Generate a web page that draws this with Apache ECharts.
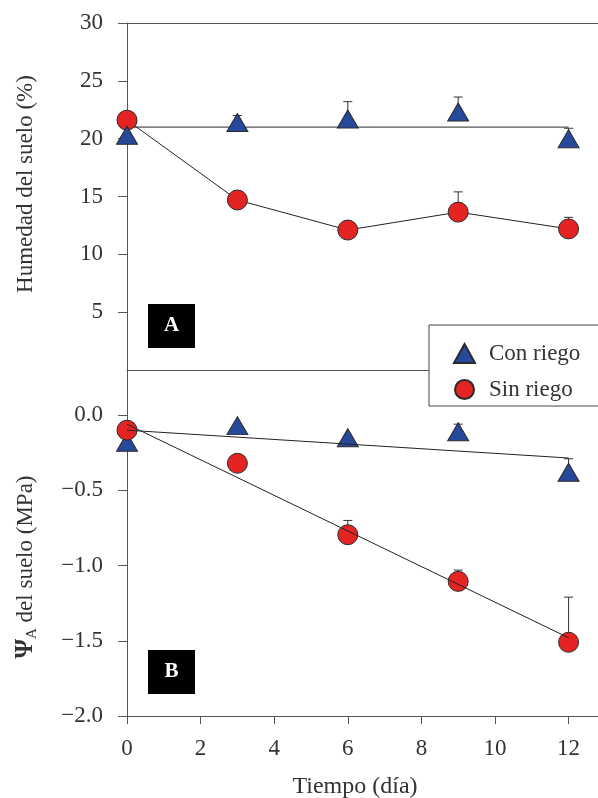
<!DOCTYPE html>
<html>
<head>
<meta charset="utf-8">
<script src="https://cdn.jsdelivr.net/npm/echarts@6/dist/echarts.min.js"></script>
<style>
html,body{margin:0;padding:0;background:#fff;}
#chart{width:598px;height:798px;}
</style>
</head>
<body>
<div id="chart"></div>
<script>
// ---- data ----
const days = [0, 3, 6, 9, 12];
const xTicks = [0, 2, 4, 6, 8, 10, 12];
const humTicks = [5, 10, 15, 20, 25, 30];
const psiTicks = [-2.0, -1.5, -1.0, -0.5, 0.0];

// Panel A: Humedad del suelo (%)
const humConRiego = [20.3, 21.4, 21.7, 22.3, 20.0];
const humConRiegoErr = [null, 22.0, 23.2, 23.6, 20.9];
const humSinRiego = [21.6, 14.7, 12.1, 13.65, 12.2];
const humSinRiegoErr = [null, null, null, 15.4, 13.2];
const fitDays = [0, 12];
const humConRiegoMean = [21.0, 21.0];

// Panel B: Psi_A del suelo (MPa)
const psiConRiego = [-0.18, -0.07, -0.15, -0.11, -0.38];
const psiConRiegoErr = [null, null, null, -0.06, -0.29];
const psiSinRiego = [-0.10, -0.32, -0.795, -1.105, -1.51];
const psiSinRiegoErr = [null, null, -0.70, -1.03, -1.21];
const psiConRiegoFit = [-0.10, -0.285];
const psiSinRiegoFit = [-0.06, -1.48];

// ---- helpers ----
const FONT = "'Liberation Serif','DejaVu Serif',serif";
const BLUE = '#27499b', RED = '#e32422', EDGE = '#2a2a2a', AX = '#555';
const XMAX = 12.8;
const LBL = 23;
const pairs = (xs, ys) => xs.map((x, i) => [x, ys[i]]);
const errData = (vals, errs) => days.map((d, i) => errs[i] == null ? null : [d, vals[i], errs[i]]).filter(Boolean);

function renderErr(params, api) {
  const x = api.value(0), y = api.value(1), e = api.value(2);
  const p0 = api.coord([x, y]), p1 = api.coord([x, e]);
  const cap = 4.5;
  const st = { stroke: '#333', lineWidth: 1 };
  return { type: 'group', children: [
    { type: 'line', shape: { x1: p0[0], y1: p0[1], x2: p1[0], y2: p1[1] }, style: st },
    { type: 'line', shape: { x1: p1[0] - cap, y1: p1[1], x2: p1[0] + cap, y2: p1[1] }, style: st }
  ]};
}
const fmtNum = v => (v < 0 ? '\u2212' : '') + Math.abs(v).toFixed(1);

const chart = echarts.init(document.getElementById('chart'), null, { renderer: 'canvas' });

const lineOnlyX = (grid, pos) => ({
  type: 'value', gridIndex: grid, position: pos, min: 0, max: XMAX,
  axisLine: { show: true, onZero: false, lineStyle: { color: AX, width: 1 } },
  axisTick: { show: false }, axisLabel: { show: false }, splitLine: { show: false }
});

const option = {
  animation: false,
  backgroundColor: '#fff',
  textStyle: { fontFamily: FONT },
  grid: [
    { left: 127, top: 23, right: 0, height: 347 },
    { left: 127, top: 370, right: 0, height: 346 }
  ],
  xAxis: [
    lineOnlyX(0, 'top'),
    {
      type: 'value', gridIndex: 1, position: 'bottom', min: 0, max: XMAX, interval: 2,
      axisLine: { show: true, onZero: false, lineStyle: { color: AX, width: 1 } },
      axisTick: { show: true, length: 8, lineStyle: { color: AX }, customValues: xTicks },
      axisLabel: { show: true, customValues: xTicks, margin: 21, fontSize: LBL, color: '#333', fontFamily: FONT },
      splitLine: { show: false }
    },
    lineOnlyX(1, 'top')
  ],
  yAxis: [
    {
      type: 'value', gridIndex: 0, min: 0, max: 30, interval: 5,
      axisLine: { show: true, onZero: false, lineStyle: { color: AX, width: 1 } },
      axisTick: { show: true, length: 9, lineStyle: { color: AX }, customValues: humTicks },
      axisLabel: { customValues: humTicks, margin: 24, fontSize: LBL, color: '#333', fontFamily: FONT },
      splitLine: { show: false }
    },
    {
      type: 'value', gridIndex: 1, min: -2.0, max: 0.3, interval: 0.5,
      axisLine: { show: true, onZero: false, lineStyle: { color: AX, width: 1 } },
      axisTick: { show: true, length: 9, lineStyle: { color: AX }, customValues: psiTicks },
      axisLabel: { customValues: psiTicks, margin: 24, fontSize: LBL, color: '#333', fontFamily: FONT, formatter: fmtNum },
      splitLine: { show: false }
    }
  ],
  legend: {
    orient: 'vertical', left: 429, top: 325,
    data: ['Con riego', 'Sin riego'],
    backgroundColor: '#fff', borderColor: '#444', borderWidth: 1,
    padding: [17, 200, 5, 24],
    itemWidth: 21, itemHeight: 19, itemGap: 13,
    textStyle: { fontSize: LBL, lineHeight: 19, color: '#333', fontFamily: FONT, padding: [0, 0, 0, 9] },
    z: 20
  },
  graphic: [
    { type: 'rect', left: 148, top: 304, shape: { width: 47, height: 44 }, style: { fill: '#000' }, z: 10 },
    { type: 'text', x: 171.5, y: 326, style: { text: 'A', fill: '#fff', font: "bold 21px " + FONT, textAlign: 'center', textVerticalAlign: 'middle' }, z: 11 },
    { type: 'rect', left: 148, top: 650, shape: { width: 47, height: 44 }, style: { fill: '#000' }, z: 10 },
    { type: 'text', x: 171.5, y: 672, style: { text: 'B', fill: '#fff', font: "bold 21px " + FONT, textAlign: 'center', textVerticalAlign: 'middle' }, z: 11 },
    { type: 'text', x: 26, y: 184, rotation: Math.PI / 2,
      style: { text: 'Humedad del suelo (%)', fill: '#333', font: "23px " + FONT, textAlign: 'center', textVerticalAlign: 'middle' } },
    { type: 'text', x: 26, y: 567, rotation: Math.PI / 2,
      style: {
        text: '{psi|\u03A8}{sub|A}{n| del suelo (MPa)}',
        textAlign: 'center', textVerticalAlign: 'middle',
        rich: {
          psi: { fontSize: 25, fontWeight: 'bold', fontFamily: FONT, fill: '#333', lineHeight: 27, verticalAlign: 'middle' },
          sub: { fontSize: 15, fontFamily: FONT, fill: '#333', lineHeight: 27, verticalAlign: 'bottom', padding: [10, 0, 0, 0] },
          n: { fontSize: 23, fontFamily: FONT, fill: '#333', lineHeight: 27, verticalAlign: 'middle' }
        }
      } },
    { type: 'text', x: 355, y: 787,
      style: { text: 'Tiempo (d\u00EDa)', fill: '#333', font: "24px " + FONT, textAlign: 'center', textVerticalAlign: 'middle' } }
  ],
  series: [
    // Panel A
    { type: 'line', name: 'mediaA', xAxisIndex: 0, yAxisIndex: 0, data: pairs(fitDays, humConRiegoMean),
      symbol: 'none', lineStyle: { color: '#555', width: 1.2 }, z: 2 },
    { type: 'line', name: 'lineaA', xAxisIndex: 0, yAxisIndex: 0, data: pairs(days, humSinRiego),
      symbol: 'none', lineStyle: { color: '#222', width: 1 }, z: 2 },
    { type: 'custom', name: 'errA1', xAxisIndex: 0, yAxisIndex: 0, data: errData(humConRiego, humConRiegoErr),
      renderItem: renderErr, encode: { x: 0, y: [1, 2] }, z: 3 },
    { type: 'custom', name: 'errA2', xAxisIndex: 0, yAxisIndex: 0, data: errData(humSinRiego, humSinRiegoErr),
      renderItem: renderErr, encode: { x: 0, y: [1, 2] }, z: 3 },
    { type: 'scatter', name: 'Con riego', xAxisIndex: 0, yAxisIndex: 0, data: pairs(days, humConRiego),
      symbol: 'triangle', symbolSize: [21, 18], itemStyle: { color: BLUE, borderColor: EDGE, borderWidth: 1, opacity: 1 }, z: 5 },
    { type: 'scatter', name: 'Sin riego', xAxisIndex: 0, yAxisIndex: 0, data: pairs(days, humSinRiego),
      symbol: 'circle', symbolSize: 20, itemStyle: { color: RED, borderColor: EDGE, borderWidth: 1, opacity: 1 }, z: 4 },
    // Panel B
    { type: 'line', name: 'ajusteB1', xAxisIndex: 1, yAxisIndex: 1, data: pairs(fitDays, psiConRiegoFit),
      symbol: 'none', lineStyle: { color: '#222', width: 1 }, z: 6 },
    { type: 'line', name: 'ajusteB2', xAxisIndex: 1, yAxisIndex: 1, data: pairs(fitDays, psiSinRiegoFit),
      symbol: 'none', lineStyle: { color: '#222', width: 1 }, z: 6 },
    { type: 'custom', name: 'errB1', xAxisIndex: 1, yAxisIndex: 1, data: errData(psiConRiego, psiConRiegoErr),
      renderItem: renderErr, encode: { x: 0, y: [1, 2] }, z: 3 },
    { type: 'custom', name: 'errB2', xAxisIndex: 1, yAxisIndex: 1, data: errData(psiSinRiego, psiSinRiegoErr),
      renderItem: renderErr, encode: { x: 0, y: [1, 2] }, z: 3 },
    { type: 'scatter', name: 'Con riego', xAxisIndex: 1, yAxisIndex: 1, data: pairs(days, psiConRiego),
      symbol: 'triangle', symbolSize: [21, 18], itemStyle: { color: BLUE, borderColor: EDGE, borderWidth: 1, opacity: 1 }, z: 4 },
    { type: 'scatter', name: 'Sin riego', xAxisIndex: 1, yAxisIndex: 1, data: pairs(days, psiSinRiego),
      symbol: 'circle', symbolSize: 20, itemStyle: { color: RED, borderColor: EDGE, borderWidth: 1, opacity: 1 }, z: 5 }
  ]
};
chart.setOption(option);
</script>
</body>
</html>
